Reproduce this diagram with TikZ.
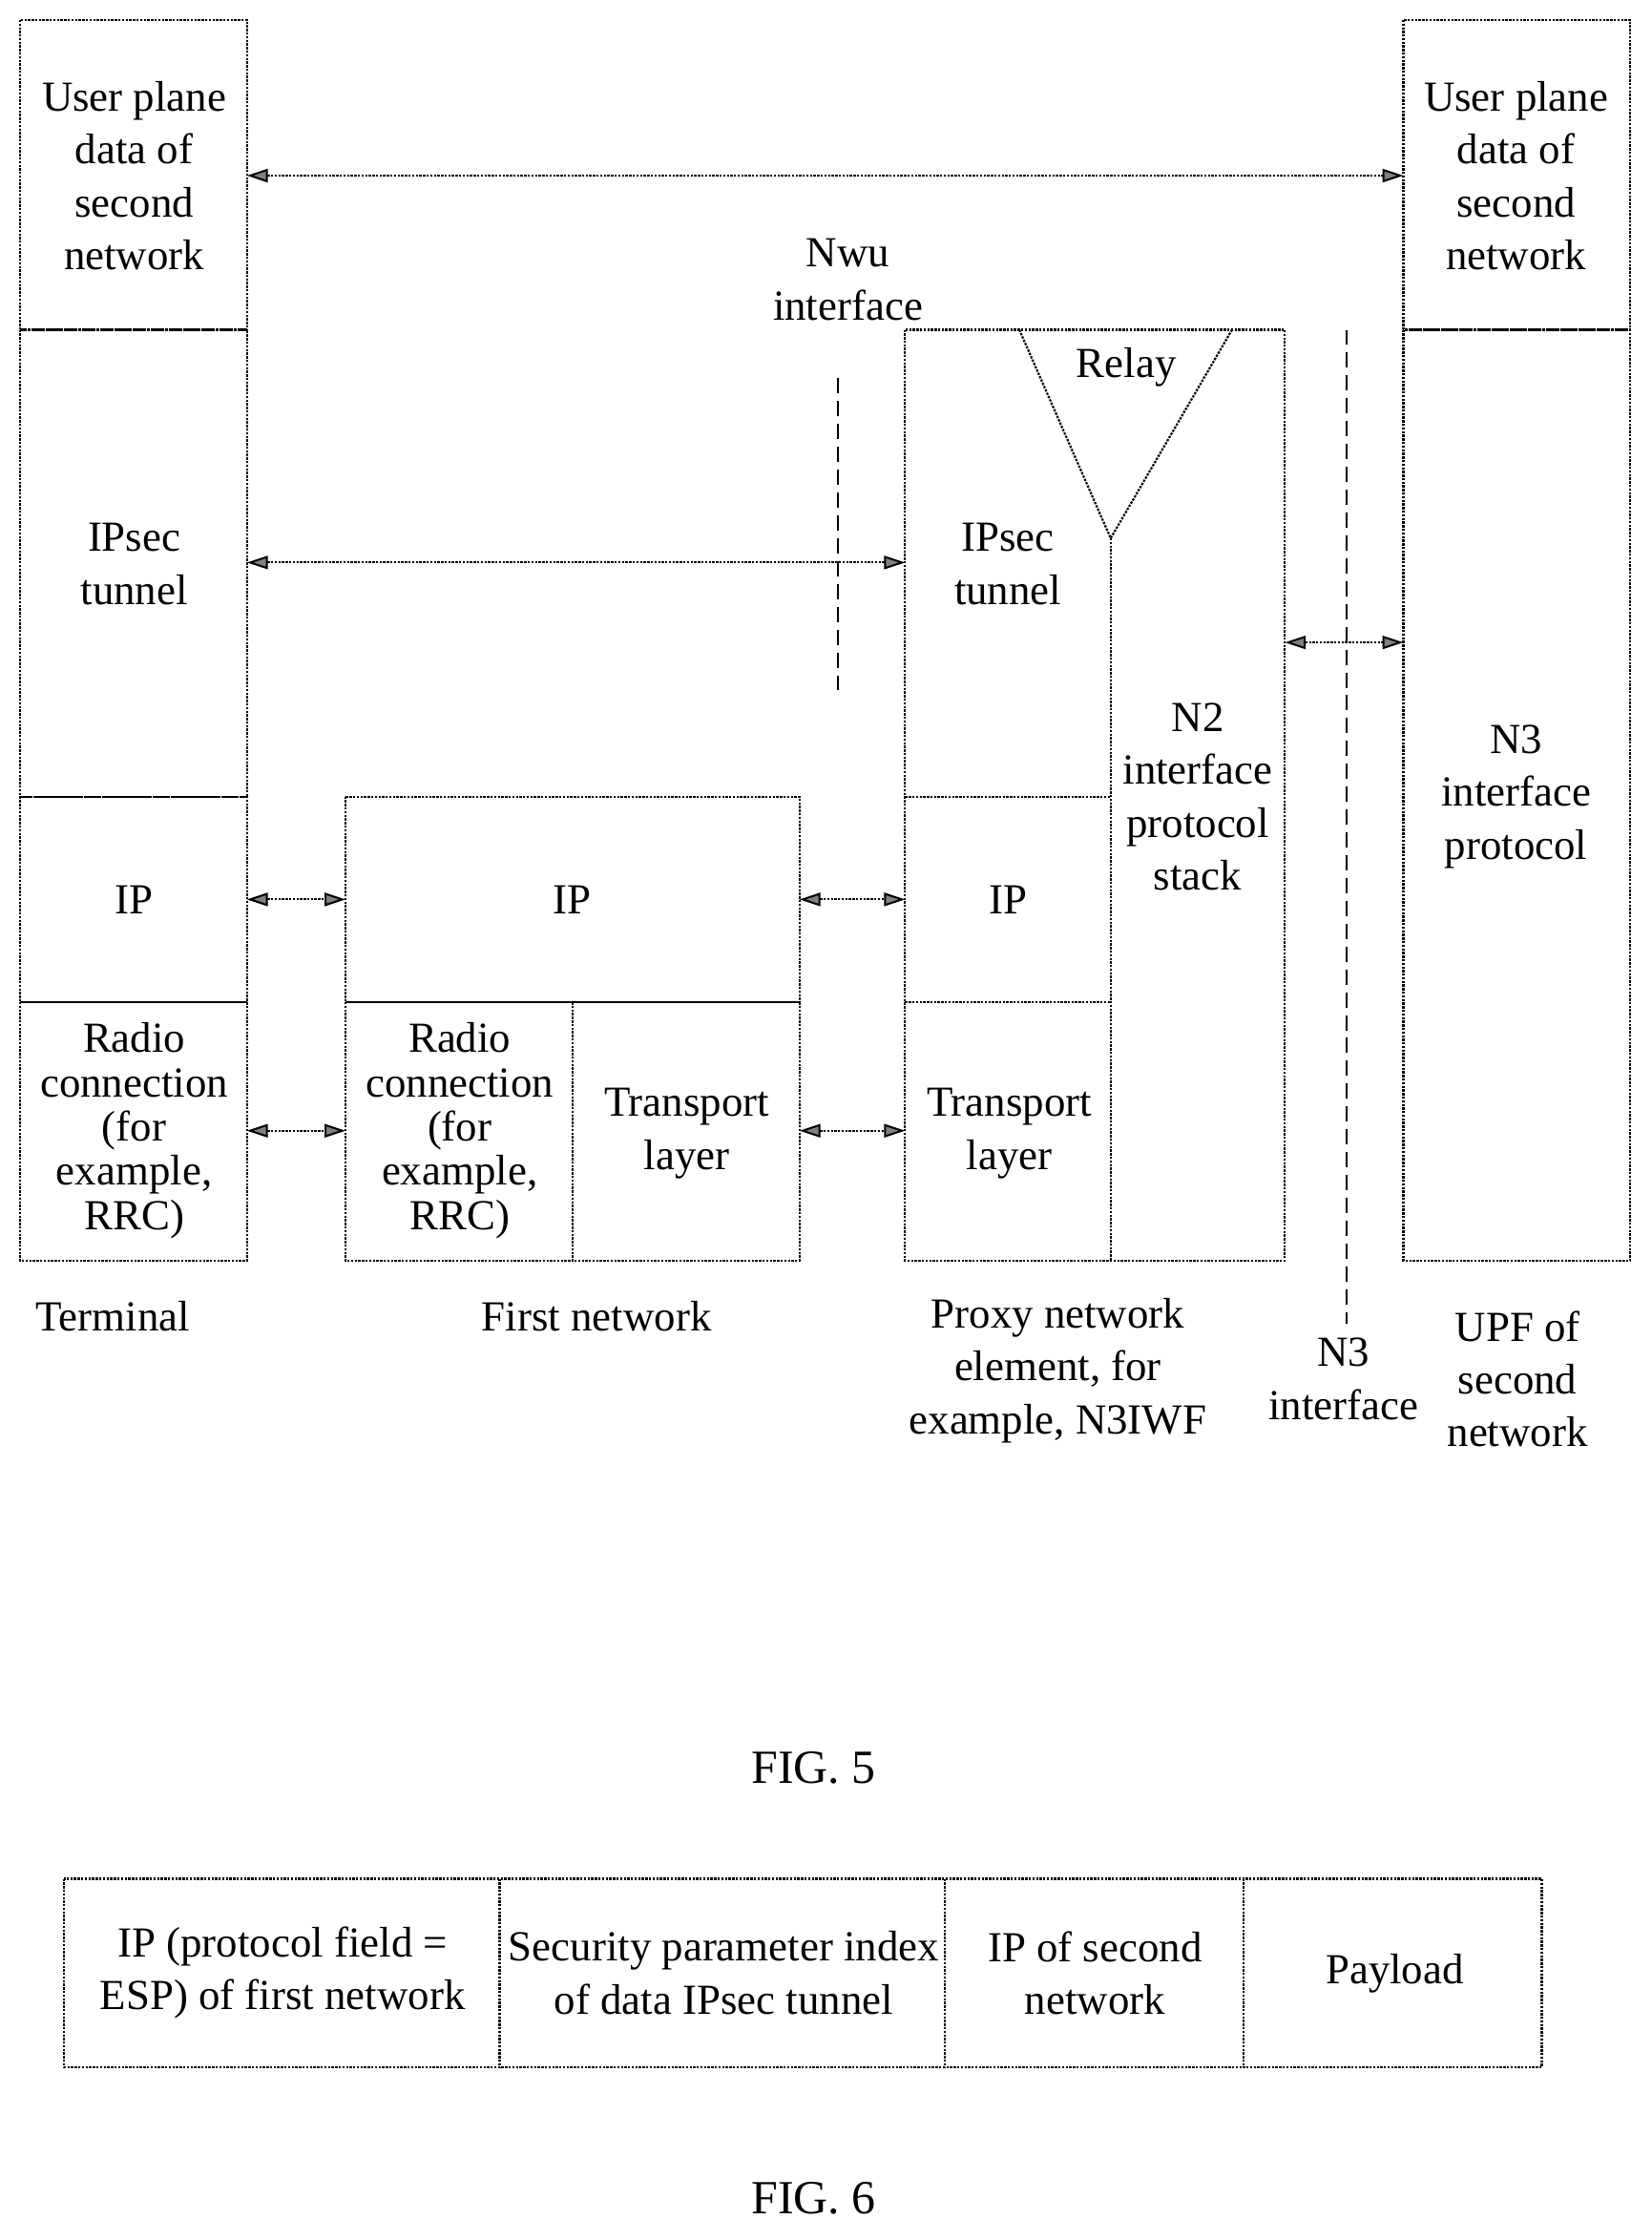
\documentclass[tikz,border=0pt]{standalone}
\usepackage{fontspec}
\setmainfont{Liberation Serif}
\usetikzlibrary{arrows.meta}
\begin{document}
\begin{tikzpicture}[x=0.75pt,y=-0.75pt,
  bx/.style={draw,line width=1.1pt,dash pattern=on 1.2pt off 0.7pt},
  ln/.style={line width=1.1pt,dash pattern=on 1.2pt off 0.7pt},
  dl/.style={line width=1pt,dash pattern=on 8pt off 4pt},
  ar/.style={line width=1pt,dash pattern=on 1.2pt off 0.7pt,{Triangle[length=11pt,width=7pt,fill=gray]}-{Triangle[length=11pt,width=7pt,fill=gray]}},
  t/.style={font=\fontsize{22.5}{27.75}\selectfont,align=center,inner sep=0pt},
  tr/.style={font=\fontsize{22.5}{23.25}\selectfont,align=center,inner sep=0pt}]
\useasboundingbox (0,0) rectangle (1157,1569);
% Terminal
\draw[bx] (14,14) rectangle (173,231);
\draw[bx] (14,231) rectangle (173,558);
\draw[bx] (14,558) rectangle (173,702);
\draw[bx] (14,702) rectangle (173,883);
\node[t] (tu) at (94,123) {User plane\\data of\\second\\network};
\node[t] (ti) at (94,395) {IPsec\\tunnel};
\node[t] (tip) at (94,630) {IP};
\node[tr] (tr) at (94,792) {Radio\\connection\\(for\\example,\\RRC)};
% UPF
\draw[bx] (983,14) rectangle (1142,231);
\draw[bx] (983,231) rectangle (1142,883);
\node[t] (uu) at (1062,123) {User plane\\data of\\second\\network};
\node[t] (un) at (1062,558) {N3\\interface\\protocol};
% First network
\draw[bx] (242,558) rectangle (560,702);
\draw[bx] (242,702) rectangle (401,883);
\draw[bx] (401,702) rectangle (560,883);
\node[t] (fip) at (401,630) {IP};
\node[tr] (fr) at (322,792) {Radio\\connection\\(for\\example,\\RRC)};
\node[t] (ft) at (481,794) {Transport\\layer};
% Proxy
\draw[bx] (634,231) rectangle (900,883);
\draw[ln] (634,558) -- (778,558);
\draw[ln] (634,702) -- (778,702);
\draw[ln] (714,231) -- (778,377) -- (863,231);
\draw[ln] (778,377) -- (778,883);
\node[t] (pr) at (789,257) {Relay};
\node[t] (pi) at (706,395) {IPsec\\tunnel};
\node[t] (pip) at (706,630) {IP};
\node[t] (pt) at (707,794) {Transport\\layer};
\node[t] (pn) at (839,558) {N2\\interface\\protocol\\stack};
% arrows
\coordinate (a1) at (173,123); \coordinate (a2) at (983,123);
\draw[ar] (a1) -- (a2);
\coordinate (b1) at (173,394); \coordinate (b2) at (634,394);
\draw[ar] (b1) -- (b2);
\coordinate (c1) at (173,630); \coordinate (c2) at (242,630);
\coordinate (c3) at (560,630); \coordinate (c4) at (634,630);
\draw[ar] (c1) -- (c2); \draw[ar] (c3) -- (c4);
\coordinate (d1) at (173,792); \coordinate (d2) at (242,792);
\coordinate (d3) at (560,792); \coordinate (d4) at (634,792);
\draw[ar] (d1) -- (d2); \draw[ar] (d3) -- (d4);
\coordinate (e1) at (900,450); \coordinate (e2) at (983,450);
\draw[ar] (e1) -- (e2);
% dashed interface lines
\coordinate (n1) at (587,265); \coordinate (n2) at (587,487);
\draw[dl] (n1) -- (n2);
\coordinate (m1) at (943,231); \coordinate (m2) at (943,927);
\draw[dl] (m1) -- (m2);
\node[t] (nwu) at (594,196) {Nwu\\interface};
\node[t] (n3) at (941,966) {N3\\interface};
% labels
\node[t] (lt) at (79,922) {Terminal};
\node[t] (lf) at (418,922) {First network};
\node[t] (lp) at (741,960) {Proxy network\\element, for\\example, N3IWF};
\node[t] (lu) at (1063,966) {UPF of\\second\\network};
\node[t,font=\fontsize{25}{30}\selectfont] (f5) at (570,1238) {FIG. 5};
% Fig 6
\draw[bx] (45,1316) rectangle (1080,1448);
\draw[ln] (350,1316) -- (350,1448);
\draw[ln] (662,1316) -- (662,1448);
\draw[ln] (871,1316) -- (871,1448);
\node[t] (g1) at (198,1382) {IP (protocol field =\\ESP) of first network};
\node[t] (g2) at (507,1382) {Security parameter index\\of data IPsec tunnel};
\node[t] (g3) at (767,1382) {IP of second\\network};
\node[t] (g4) at (977,1382) {Payload};
\node[t,font=\fontsize{25}{30}\selectfont] (f6) at (570,1540) {FIG. 6};
\end{tikzpicture}
\end{document}
